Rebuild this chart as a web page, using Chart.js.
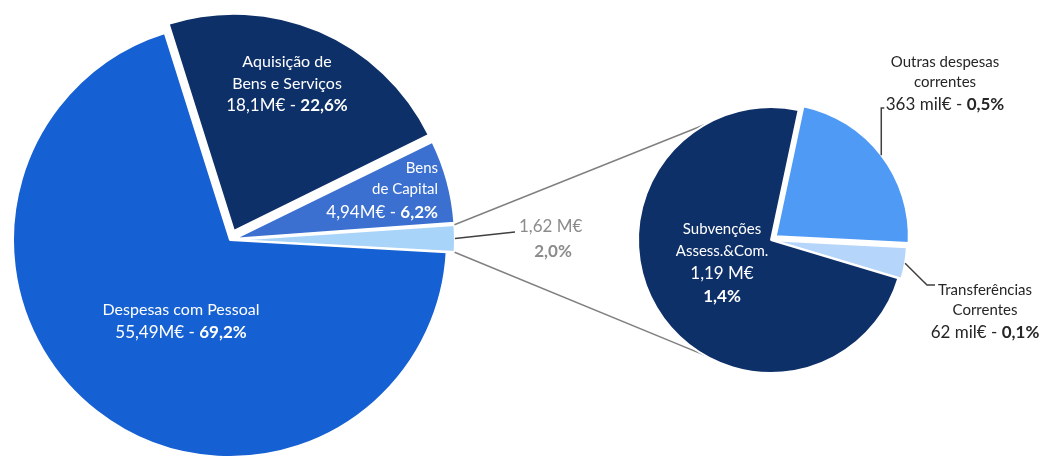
<!DOCTYPE html>
<html>
<head>
<meta charset="utf-8">
<script src="https://cdn.jsdelivr.net/npm/chart.js@4.4.0/dist/chart.umd.min.js"></script>
<style>
  html, body { margin: 0; padding: 0; background: #fff; overflow: hidden; }
  #wrap { position: relative; width: 1046px; height: 458px; }
  #wrap canvas { position: absolute; left: 0; top: 0; }
</style>
</head>
<body>
<div id="wrap">
  <canvas id="mainPie" width="1046" height="458"></canvas>
  <canvas id="subPie" width="1046" height="458"></canvas>
</div>
<script>
// main pie: total expenses (M€)
const mainLabels = [['Aquisição de', 'Bens e Serviços'], ['Bens', 'de Capital'], ['Outras despesas'], ['Despesas com Pessoal']];
const mainValues = [18.1, 4.94, 1.62, 55.49];
const mainAmounts = ['18,1M€', '4,94M€', '1,62 M€', '55,49M€'];
const mainPercents = ['22,6%', '6,2%', '2,0%', '69,2%'];
const mainColors = ['#0e3069', '#3b6fd0', '#a9d4fa', '#1560d2'];

// second pie: breakdown of the 2,0% slice (M€)
const subLabels = [['Outras despesas', 'correntes'], ['Transferências', 'Correntes'], ['Subvenções', 'Assess.&Com.']];
const subValues = [0.363, 0.062, 1.19];
const subAmounts = ['363 mil€', '62 mil€', '1,19 M€'];
const subPercents = ['0,5%', '0,1%', '1,4%'];
const subColors = ['#4f9af5', '#b5d6fa', '#0e3069'];

const FONT = 'Lato, "Open Sans", sans-serif';

function drawLine(ctx, parts, x, y, size, align, color) {
    const widths = parts.map(p => {
        ctx.font = (p.bold ? 'bold ' : '') + size + 'px ' + FONT;
        return ctx.measureText(p.text).width;
    });
    const total = widths.reduce((a, b) => a + b, 0);
    let cx = align === 'center' ? x - total / 2 : (align === 'right' ? x - total : x);
    ctx.fillStyle = color;
    ctx.textBaseline = 'middle';
    ctx.textAlign = 'left';
    parts.forEach((p, i) => {
        ctx.font = (p.bold ? 'bold ' : '') + size + 'px ' + FONT;
        ctx.fillText(p.text, cx, y);
        cx += widths[i];
    });
}

function valueLine(amount, pct) {
    return [{ text: amount + ' - ' }, { text: pct, bold: true }];
}

// same translation chart.js applies to an offset arc
function arcShift(arc) {
    const off = (arc.options.offset || 0) / 4;
    const fix = 1 - Math.sin(Math.min(Math.PI, arc.circumference || 0));
    const half = (arc.startAngle + arc.endAngle) / 2;
    const d = off + off * fix;
    return { x: arc.x + Math.cos(half) * d, y: arc.y + Math.sin(half) * d };
}

function arcPoint(arc, angle) {
    const c = arcShift(arc);
    return { x: c.x + Math.cos(angle) * arc.outerRadius, y: c.y + Math.sin(angle) * arc.outerRadius };
}

const mainTextPlugin = {
    id: 'mainText',
    afterDatasetsDraw(chart) {
        const ctx = chart.ctx;
        const arcs = chart.getDatasetMeta(0).data;
        ctx.save();

        drawLine(ctx, [{ text: mainLabels[0][0] }], 287, 62, 16, 'center', '#fff');
        drawLine(ctx, [{ text: mainLabels[0][1] }], 287, 84, 16, 'center', '#fff');
        drawLine(ctx, valueLine(mainAmounts[0], mainPercents[0]), 287, 106, 17, 'center', '#fff');

        drawLine(ctx, [{ text: mainLabels[1][0] }], 438, 168, 15, 'right', '#fff');
        drawLine(ctx, [{ text: mainLabels[1][1] }], 438, 189, 15, 'right', '#fff');
        drawLine(ctx, valueLine(mainAmounts[1], mainPercents[1]), 438, 213, 17, 'right', '#fff');

        drawLine(ctx, [{ text: mainLabels[3][0] }], 181, 310, 16, 'center', '#fff');
        drawLine(ctx, valueLine(mainAmounts[3], mainPercents[3]), 181, 333, 17, 'center', '#fff');

        // leader for the small slice
        const s = arcs[2];
        const p = arcPoint(s, (s.startAngle + s.endAngle) / 2);
        ctx.strokeStyle = '#404040';
        ctx.lineWidth = 1.5;
        ctx.beginPath();
        ctx.moveTo(p.x, p.y);
        ctx.lineTo(515, 232);
        ctx.stroke();
        drawLine(ctx, [{ text: mainAmounts[2] }], 519, 227, 17, 'left', '#8c8c8c');
        drawLine(ctx, [{ text: mainPercents[2], bold: true }], 553, 252, 17, 'center', '#8c8c8c');
        ctx.restore();
    }
};

const subTextPlugin = {
    id: 'subText',
    beforeDatasetsDraw(chart) {
        // connector lines from the 2% slice to the second pie
        const ctx = chart.ctx;
        const s = mainChart.getDatasetMeta(0).data[2];
        const top = arcPoint(s, s.startAngle);
        const bot = arcPoint(s, s.endAngle);
        const a = chart.getDatasetMeta(0).data[2];
        const r = a.outerRadius;
        ctx.save();
        ctx.strokeStyle = '#808080';
        ctx.lineWidth = 1.5;
        ctx.beginPath();
        ctx.moveTo(top.x, top.y);
        ctx.lineTo(a.x + Math.cos(-2 * Math.PI / 3) * r, a.y + Math.sin(-2 * Math.PI / 3) * r);
        ctx.moveTo(bot.x, bot.y);
        ctx.lineTo(a.x + Math.cos(2 * Math.PI / 3) * r, a.y + Math.sin(2 * Math.PI / 3) * r);
        ctx.stroke();
        ctx.restore();
    },
    afterDatasetsDraw(chart) {
        const ctx = chart.ctx;
        const arcs = chart.getDatasetMeta(0).data;
        ctx.save();

        drawLine(ctx, [{ text: subLabels[2][0] }], 722, 229, 15, 'center', '#fff');
        drawLine(ctx, [{ text: subLabels[2][1] }], 722, 251, 15, 'center', '#fff');
        drawLine(ctx, [{ text: subAmounts[2] }], 722, 274, 17, 'center', '#fff');
        drawLine(ctx, [{ text: subPercents[2], bold: true }], 722, 297, 17, 'center', '#fff');

        ctx.strokeStyle = '#404040';
        ctx.lineWidth = 1.5;
        const o = arcs[0];
        const po = arcPoint(o, (o.startAngle + o.endAngle) / 2);
        ctx.beginPath();
        ctx.moveTo(po.x, po.y);
        ctx.lineTo(po.x, 108);
        ctx.lineTo(po.x + 3, 108);
        ctx.stroke();

        const t = arcs[1];
        const pt = arcPoint(t, (t.startAngle + t.endAngle) / 2);
        ctx.beginPath();
        ctx.moveTo(pt.x, pt.y);
        ctx.lineTo(927, 285);
        ctx.lineTo(935, 285);
        ctx.stroke();

        drawLine(ctx, [{ text: subLabels[0][0] }], 945, 62, 15, 'center', '#262626');
        drawLine(ctx, [{ text: subLabels[0][1] }], 945, 82, 15, 'center', '#262626');
        drawLine(ctx, valueLine(subAmounts[0], subPercents[0]), 945, 105, 17, 'center', '#262626');

        drawLine(ctx, [{ text: subLabels[1][0] }], 985, 290, 15, 'center', '#262626');
        drawLine(ctx, [{ text: subLabels[1][1] }], 985, 310, 15, 'center', '#262626');
        drawLine(ctx, valueLine(subAmounts[1], subPercents[1]), 985, 333, 17, 'center', '#262626');
        ctx.restore();
    }
};

const mainChart = new Chart(document.getElementById('mainPie'), {
    type: 'pie',
    data: {
        labels: mainLabels,
        datasets: [{
            data: mainValues,
            backgroundColor: mainColors,
            borderColor: '#ffffff',
            borderWidth: 2,
            offset: [40, 20, 17, 0],
            clip: false
        }]
    },
    options: {
        responsive: false,
        animation: false,
        events: [],
        rotation: -17.5,
        radius: 217,
        layout: { padding: { left: 0, right: 586, top: 22, bottom: 0 } },
        plugins: { legend: { display: false }, tooltip: { enabled: false } }
    },
    plugins: [mainTextPlugin]
});

const subChart = new Chart(document.getElementById('subPie'), {
    type: 'pie',
    data: {
        labels: subLabels,
        datasets: [{
            data: subValues,
            backgroundColor: subColors,
            borderColor: '#ffffff',
            borderWidth: 2,
            offset: [24, 7, 0],
            clip: false
        }]
    },
    options: {
        responsive: false,
        animation: false,
        events: [],
        rotation: 12,
        radius: 133,
        layout: { padding: { left: 600, right: 104, top: 22, bottom: 0 } },
        plugins: { legend: { display: false }, tooltip: { enabled: false } }
    },
    plugins: [subTextPlugin]
});
</script>
</body>
</html>
